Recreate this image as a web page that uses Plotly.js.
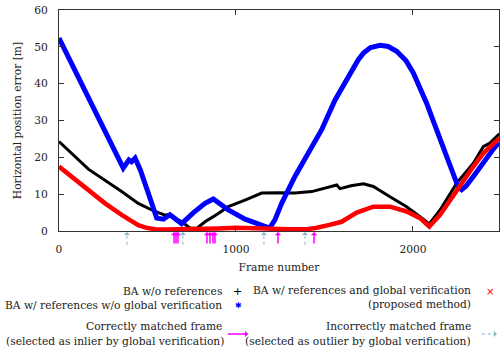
<!DOCTYPE html>
<html>
<head>
<meta charset="utf-8">
<script src="https://cdn.plot.ly/plotly-3.0.1.min.js"></script>
<style>
html,body{margin:0;padding:0;background:#fff;}
#chart{width:501px;height:355px;}
</style>
</head>
<body>
<div id="chart"></div>
<script>
// ---- data ----
const blackFrames = [0,166,354,448,542,600,627,660,693,740,778,825,872,957,1051,1145,1239,1333,1428,1522,1569,1588,1650,1720,1776,1870,1964,2040,2092,2153,2247,2341,2397,2435,2488];
const blackErr    = [24.3,16.8,10.7,7.5,5.3,4.3,4.6,3.4,2.5,0.8,0.7,2.5,3.9,6.6,8.4,10.3,10.4,10.3,10.7,11.9,12.5,11.5,12.3,12.8,12.1,9.3,6.6,3.9,1.9,5.7,13.0,18.4,22.9,23.9,26.4];

const blueFrames = [0,60,120,180,240,300,363,395,410,430,460,510,552,590,627,660,693,760,825,872,957,1051,1145,1190,1220,1258,1333,1410,1484,1559,1610,1663,1691,1720,1760,1814,1860,1908,1960,2002,2040,2077,2115,2153,2190,2228,2255,2275,2300,2341,2380,2416,2450,2485];
const blueErr    = [52.4,46.6,40.7,34.9,29.0,23.2,17.1,19.3,18.8,19.8,16.5,9.5,3.5,3.2,4.4,3.2,2.0,5.0,7.5,8.7,5.7,3.2,1.5,0.8,3.0,7.5,14.8,21.1,27.5,35.5,40.0,44.7,46.5,48.3,49.8,50.4,50.1,48.8,46.3,42.9,39.0,34.7,29.8,24.8,19.8,14.8,12.0,11.2,12.2,14.8,17.5,20.2,22.0,24.0];

const redFrames = [0,80,166,260,354,448,500,542,600,700,800,900,1000,1100,1200,1300,1400,1450,1522,1597,1682,1776,1870,1964,2040,2092,2153,2247,2341,2397,2488];
const redErr    = [17.5,14.5,11.2,7.5,4.4,1.6,0.8,0.5,0.4,0.4,0.6,0.7,0.9,0.7,0.5,0.5,0.5,0.8,1.6,2.5,5.0,6.6,6.6,5.3,3.5,1.2,4.4,11.2,17.5,21.1,25.2];

const correctFrames   = [650,661,672,836,853,870,881,1237,1441];
const incorrectFrames = [384,700,1158,1390];

const seriesNames = [
  "BA w/o references",
  "BA w/ references w/o global verification",
  "BA w/ references and global verification",
  "(proposed method)"
];
const arrowNames = [
  "Correctly matched frame",
  "(selected as inlier by global verification)",
  "Incorrectly matched frame",
  "(selected as outlier by global verification)"
];
const xTicks = [0,1000,2000];
const yTicks = [0,10,20,30,40,50,60];

// ---- styling ----
const FONT = "DejaVu Serif";
const FS = 10.7;
const txt = () => ({family: FONT, size: FS, color: "#222"});
const MAGENTA = "#ff00ff", TEAL = "#7fb8c0";

const traces = [
  {x: blackFrames, y: blackErr, mode: "lines", line: {color: "#000", width: 3}, name: seriesNames[0], showlegend: false},
  {x: blueFrames, y: blueErr, mode: "lines", line: {color: "#0000ff", width: 5}, name: seriesNames[1], showlegend: false},
  {x: redFrames, y: redErr, mode: "lines", line: {color: "#ff0000", width: 4.5}, name: seriesNames[2], showlegend: false}
];

const ann = [];
const shapes = [];
correctFrames.forEach(f => ann.push({
  x: f, xref: "x", y: -0.005, yref: "paper", ax: 0, ay: 13, text: "", showarrow: true,
  arrowhead: 1, arrowsize: 0.7, arrowwidth: 1.5, arrowcolor: MAGENTA
}));
incorrectFrames.forEach(f => {
  shapes.push({type: "line", xref: "x", yref: "paper", x0: f, x1: f, y0: -0.062, y1: -0.012,
               line: {color: TEAL, width: 1, dash: "dot"}});
  ann.push({x: f, xref: "x", y: -0.005, yref: "paper", ax: 0, ay: 3, text: "", showarrow: true,
            arrowhead: 1, arrowsize: 1, arrowwidth: 1, arrowcolor: TEAL});
});

function label(text, x, y) {
  ann.push({x: x, y: y, xref: "paper", yref: "paper", xanchor: "right", yanchor: "middle",
            text: text, showarrow: false, font: txt(), align: "right"});
}
const leftX = 0.376, rightX = 0.941;
label(seriesNames[0], leftX, -0.272);
label(seriesNames[1], leftX, -0.339);
label(seriesNames[2], rightX, -0.270);
label(seriesNames[3], rightX, -0.333);
label(arrowNames[0], leftX, -0.434);
label(arrowNames[1], leftX + 0.003, -0.498);
label(arrowNames[2], rightX, -0.434);
label(arrowNames[3], rightX, -0.498);

ann.push({x: 0.405, y: -0.274, xref: "paper", yref: "paper", xanchor: "center", yanchor: "middle", text: "+", showarrow: false, font: {family: "DejaVu Sans", size: 11, color: "#000"}});
ann.push({x: 0.407, y: -0.337, xref: "paper", yref: "paper", xanchor: "center", yanchor: "middle", text: "✱", showarrow: false, font: {family: "DejaVu Sans", size: 8, color: "#0000ff"}});
ann.push({x: 0.98, y: -0.274, xref: "paper", yref: "paper", xanchor: "center", yanchor: "middle", text: "×", showarrow: false, font: {family: "DejaVu Sans", size: 10, color: "#ff0000"}});
ann.push({x: 0.43, y: -0.466, xref: "paper", yref: "paper", ax: -22, ay: 0, text: "", showarrow: true, arrowhead: 1, arrowsize: 0.7, arrowwidth: 1.5, arrowcolor: MAGENTA});
shapes.push({type: "line", xref: "paper", yref: "paper", x0: 0.961, x1: 0.99, y0: -0.466, y1: -0.466,
             line: {color: TEAL, width: 1, dash: "dot"}});
ann.push({x: 0.995, y: -0.466, xref: "paper", yref: "paper", ax: -3, ay: 0, text: "", showarrow: true, arrowhead: 1, arrowsize: 1, arrowwidth: 1, arrowcolor: TEAL});

const axisCommon = {
  showgrid: false, zeroline: false, showline: true, linecolor: "#333", linewidth: 1,
  mirror: "ticks", ticks: "inside", ticklen: 5, tickcolor: "#333", tickwidth: 1,
  tickfont: txt()
};

const layout = {
  width: 501, height: 355,
  margin: {l: 59, r: 2, t: 10, b: 124},
  paper_bgcolor: "#fff", plot_bgcolor: "#fff",
  font: txt(),
  showlegend: false,
  xaxis: Object.assign({}, axisCommon, {
    range: [0, 2486], tickvals: xTicks, ticktext: xTicks.map(String),
    ticklabelstandoff: 8,
    title: {text: "Frame number", font: txt(), standoff: 8}
  }),
  yaxis: Object.assign({}, axisCommon, {
    range: [0, 60], tickvals: yTicks, ticktext: yTicks.map(String),
    ticklabelstandoff: 8,
    title: {text: "Horizontal position error [m]", font: txt(), standoff: 10}
  }),
  shapes: shapes,
  annotations: ann
};

Plotly.newPlot("chart", traces, layout, {staticPlot: true, displayModeBar: false});
</script>
</body>
</html>
